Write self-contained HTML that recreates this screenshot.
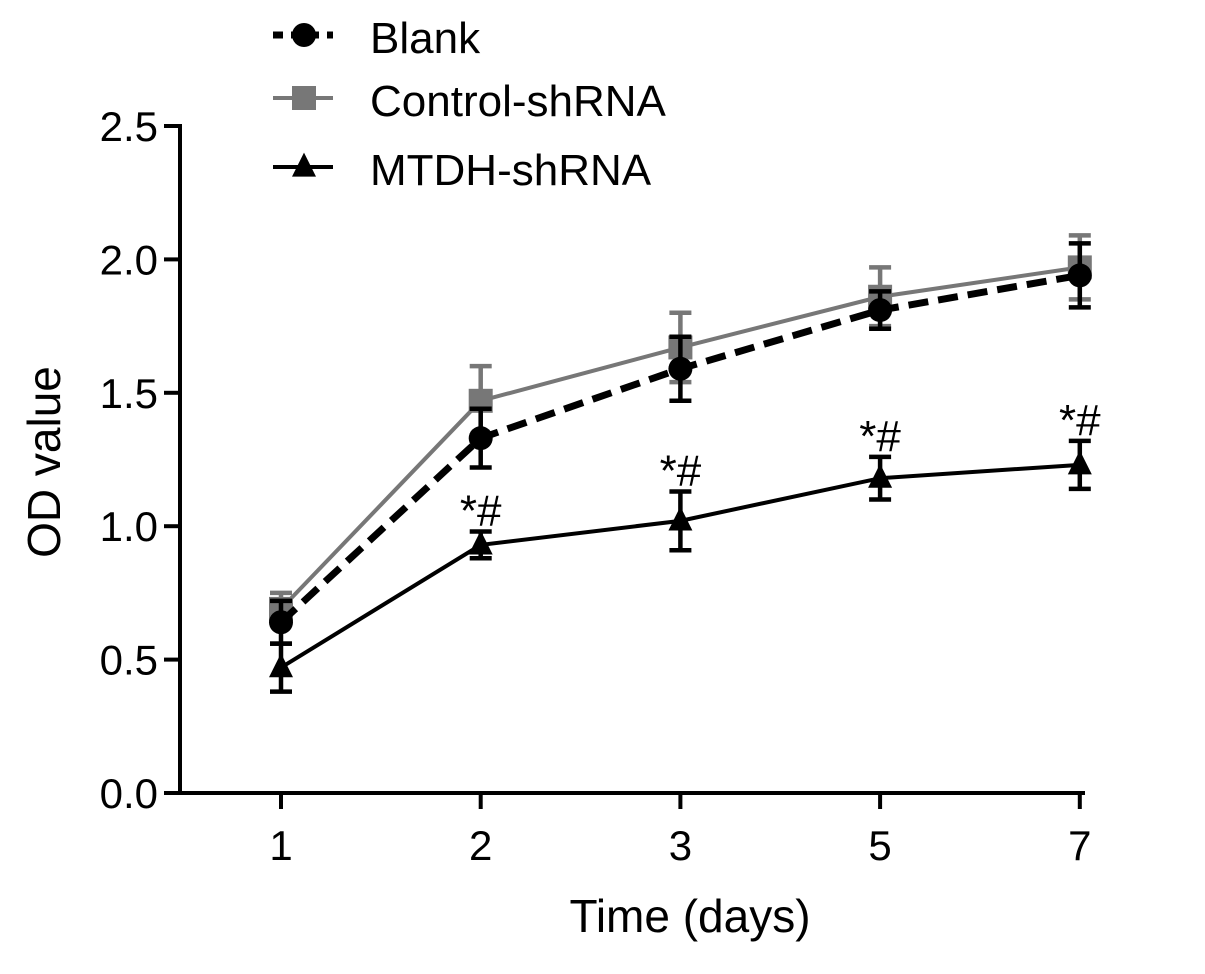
<!DOCTYPE html>
<html><head><meta charset="utf-8"><style>
body{margin:0;background:#fff}
svg text{font-family:"Liberation Sans",Arial,sans-serif}
</style></head><body>
<svg id="chart" width="1205" height="969" viewBox="0 0 1205 969" xmlns="http://www.w3.org/2000/svg">
<g id="axes"></g><g id="series"></g><g id="legend"></g>
</svg>
<script>
const categories=["1","2","3","5","7"];
const yTicks=[0.0,0.5,1.0,1.5,2.0,2.5];
const yTickLabels=["0.0","0.5","1.0","1.5","2.0","2.5"];
const blankValues=[0.64,1.33,1.59,1.81,1.94];
const blankErr=[0.08,0.11,0.12,0.07,0.12];
const controlValues=[0.69,1.47,1.67,1.86,1.97];
const controlErr=[0.06,0.13,0.13,0.11,0.12];
const mtdhValues=[0.47,0.93,1.02,1.18,1.23];
const mtdhErr=[0.09,0.05,0.11,0.08,0.09];
const sigMarks=["","*#","*#","*#","*#"];

const NS="http://www.w3.org/2000/svg";
const X0=180,Y0=793,Ytop=126;
function y(v){return Y0-(v/2.5)*(Y0-Ytop);}
function x(i){return 281+i*199.7;}
function mk(tag,attrs,parent){const e=document.createElementNS(NS,tag);for(const k in attrs)e.setAttribute(k,attrs[k]);parent.appendChild(e);return e;}
const axes=document.getElementById('axes'),ser=document.getElementById('series'),leg=document.getElementById('legend');

let l=mk('line',{x1:X0,y1:Ytop-2,x2:X0,y2:Y0+2,stroke:'#000','stroke-width':4},axes);

l=mk('line',{x1:X0-2,y1:Y0,x2:1085,y2:Y0,stroke:'#000','stroke-width':4},axes);

yTicks.forEach((v,i)=>{
 const t=mk('line',{x1:X0-16,y1:y(v),x2:X0,y2:y(v),stroke:'#000','stroke-width':4},axes);
 
 const tx=mk('text',{x:X0-22,y:y(v)+15,'text-anchor':'end','font-size':42},axes);tx.textContent=yTickLabels[i];
 
});
categories.forEach((c,i)=>{
 const t=mk('line',{x1:x(i),y1:Y0,x2:x(i),y2:Y0+16,stroke:'#000','stroke-width':4},axes);
 
 const tx=mk('text',{x:x(i),y:860,'text-anchor':'middle','font-size':42},axes);tx.textContent=c;
 
});
let tt=mk('text',{x:690,y:932,'text-anchor':'middle','font-size':46},axes);tt.textContent='Time (days)';

tt=mk('text',{x:60,y:462,'text-anchor':'middle','font-size':46,transform:'rotate(-90 60 462)'},axes);tt.textContent='OD value';


function marker(type,cx,cy,col,p,size){
 let m;
 if(type==='circle')m=mk('circle',{cx:cx,cy:cy,r:size,fill:col},p);
 else if(type==='square')m=mk('rect',{x:cx-size,y:cy-size,width:2*size,height:2*size,fill:col},p);
 else m=mk('polygon',{points:`${cx},${cy-size*1.2} ${cx-size},${cy+size*0.8} ${cx+size},${cy+size*0.8}`,fill:col},p);
 return m;
}
function drawSeries(name,vals,errs,col,dash,type,w){
 const g=mk('g',{},ser);
 
 vals.forEach((v,i)=>{
  const e=mk('path',{d:`M${x(i)},${y(v+errs[i])}V${y(v-errs[i])}M${x(i)-11},${y(v+errs[i])}H${x(i)+11}M${x(i)-11},${y(v-errs[i])}H${x(i)+11}`,stroke:col,'stroke-width':4.5,fill:'none'},g);
  
 });
 const ln=mk('polyline',{points:vals.map((v,i)=>x(i)+','+y(v)).join(' '),fill:'none',stroke:col,'stroke-width':w,'stroke-dasharray':dash},g);
 
 vals.forEach((v,i)=>{const m=marker(type,x(i),y(v),col,g,12);
  });
}
drawSeries('control',controlValues,controlErr,'#777','', 'square',4);
drawSeries('blank',blankValues,blankErr,'#000','20 10','circle',7);
drawSeries('mtdh',mtdhValues,mtdhErr,'#000','','triangle',4);
mtdhValues.forEach((v,i)=>{
 if(!sigMarks[i])return;
 const t=mk('text',{x:x(i),y:y(v+mtdhErr[i])-6,'text-anchor':'middle','font-size':44},ser);t.textContent=sigMarks[i];
 
});
const legendItems=[['Blank','#000','10 8','circle',7,35],['Control-shRNA','#777','','square',4,98],['MTDH-shRNA','#000','','triangle',4,167]];
legendItems.forEach(it=>{
 const g=mk('g',{},leg);
 
 mk('line',{x1:273,y1:it[5],x2:333,y2:it[5],stroke:it[1],'stroke-width':it[4],'stroke-dasharray':it[2]},g);
 marker(it[3],304,it[5],it[1],g,12);
 const t=mk('text',{x:370,y:it[5]+18,'font-size':44},g);t.textContent=it[0];
});
</script>
</body></html>
